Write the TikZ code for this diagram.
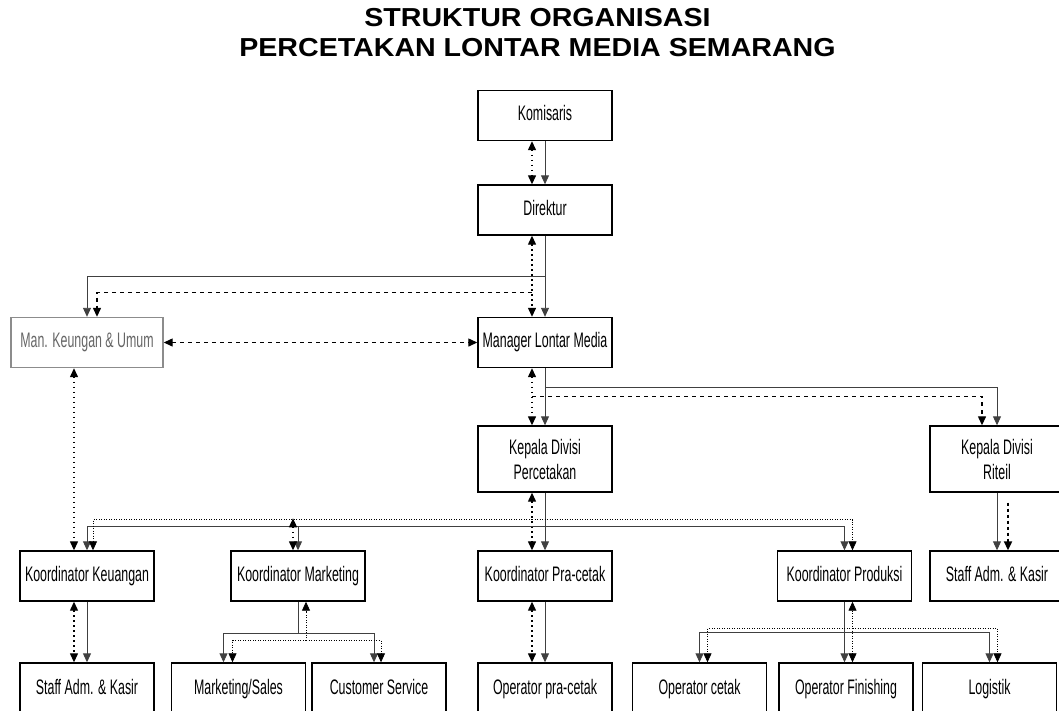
\documentclass[tikz,border=0pt]{standalone}
\usepackage{fontspec}
\setmainfont{Liberation Sans}[FakeStretch=0.59]
\newfontfamily\judulfont{Liberation Sans}[FakeStretch=1.1]
\usetikzlibrary{arrows.meta}

\begin{document}
\begin{tikzpicture}[x=1pt, y=-1pt, >={Triangle[length=9pt,width=8pt]},
        box/.style={draw, line width=1.4pt, minimum width=134pt, minimum height=50pt, inner sep=0pt, align=center, text height=15pt, text depth=4.5pt, font=\fontsize{21}{25}\selectfont},
        tall/.style={draw, line width=1.4pt, minimum width=134pt, minimum height=66pt, inner sep=0pt, align=center, font=\fontsize{21}{25}\selectfont},
        lowbox/.style={box, minimum height=52pt},
        conn/.style={line width=0.9pt, draw=black!75},
        dotline/.style={line width=1.3pt, dash pattern=on 1.5pt off 3.5pt},
        dashline/.style={line width=1.3pt, dash pattern=on 4pt off 4pt},
        thindot/.style={line width=0.8pt, dash pattern=on 1pt off 1.5pt},
        thickdot/.style={line width=2pt, dash pattern=on 3pt off 3pt}]
    \useasboundingbox (0,0) rectangle (1059,710);
    \clip (0,0) rectangle (1059,710);

    \node[font=\judulfont\bfseries\fontsize{26}{30}\selectfont, align=center, inner sep=0pt] (judul) at (537.5,33) {STRUKTUR ORGANISASI\\PERCETAKAN LONTAR MEDIA SEMARANG};

    \node[box] (komisaris) at (545,115.5) {Komisaris};
    \node[box] (direktur) at (545,210) {Direktur};
    \node[box] (manager) at (545,342.5) {Manager Lontar Media};
    \node[box, minimum width=152pt, draw=black!45, text=black!60] (mankeu) at (87,342.5) {Man. Keungan \& Umum};
    \node[tall] (kdivcetak) at (545,459) {Kepala Divisi\\Percetakan};
    \node[tall] (kdivriteil) at (997,459) {Kepala Divisi\\Riteil};

    \node[box] (kkeu) at (87,576) {Koordinator Keuangan};
    \node[box] (kmkt) at (298,576) {Koordinator Marketing};
    \node[box] (kpra) at (545,576) {Koordinator Pra-cetak};
    \node[box] (kprod) at (844.5,576) {Koordinator Produksi};
    \node[box] (staffrit) at (997,576) {Staff Adm. \& Kasir};

    \node[lowbox] (staffkeu) at (87,689) {Staff Adm. \& Kasir};
    \node[lowbox] (sales) at (238.5,689) {Marketing/Sales};
    \node[lowbox] (cs) at (379,689) {Customer Service};
    \node[lowbox] (oppra) at (545,689) {Operator pra-cetak};
    \node[lowbox] (opcetak) at (699.5,689) {Operator cetak};
    \node[lowbox] (opfin) at (846,689) {Operator Finishing};
    \node[lowbox] (logistik) at (989.5,689) {Logistik};

    \draw[conn,->] (komisaris) -- (direktur);
    \draw[dotline,<->] ([xshift=-13pt]komisaris.south) -- ([xshift=-13pt]direktur.north);

    \draw[conn,->] (direktur) -- (manager);
    \draw[dotline,<->] ([xshift=-13pt]direktur.south) -- ([xshift=-13pt]manager.north);
    \draw[conn,->] (direktur.south) ++(0,41) -| (mankeu.north);
    \draw[dashline,->] ([xshift=-13pt]direktur.south) ++(0,57) -| ([xshift=10pt]mankeu.north);

    \draw[dashline,<->] (mankeu) -- (manager);
    \draw[dotline,<->] ([xshift=-13pt]mankeu.south) -- ([xshift=-13pt]kkeu.north);

    \draw[conn,->] (manager) -- (kdivcetak);
    \draw[dotline,<->] ([xshift=-13pt]manager.south) -- ([xshift=-13pt]kdivcetak.north);
    \draw[conn,->] (manager.south) ++(0,19) -| (kdivriteil.north);
    \draw[dashline,->] ([xshift=-13pt]manager.south) ++(0,28) -| ([xshift=-15pt]kdivriteil.north);

    \draw[conn,->] (kdivcetak) -- (kpra);
    \draw[dotline,<->] ([xshift=-13pt]kdivcetak.south) -- ([xshift=-13pt]kpra.north);
    \draw[conn,->] (kdivcetak.south) ++(0,34) -| (kkeu.north);
    \draw[conn,->] (kdivcetak.south) ++(0,34) -| (kmkt.north);
    \draw[conn,->] (kdivcetak.south) ++(0,34) -| (kprod.north);
    \draw[thindot,->] ([xshift=-13pt]kdivcetak.south) ++(0,27) -| ([xshift=6pt]kkeu.north);
    \draw[thindot,->] ([xshift=-13pt]kdivcetak.south) ++(0,27) -| ([xshift=8pt]kprod.north);
    \draw[dotline,<->] ([xshift=-5pt]kmkt.north) ++(0,-32) -- ([xshift=-5pt]kmkt.north);

    \draw[conn,->] (kdivriteil) -- (staffrit);
    \draw[thickdot,->] ([xshift=11pt]kdivriteil.south) ++(0,10) -- ([xshift=11pt]staffrit.north);

    \draw[conn,->] (kkeu) -- (staffkeu);
    \draw[dotline,<->] ([xshift=-13pt]kkeu.south) -- ([xshift=-13pt]staffkeu.north);

    \draw[conn,->] (kmkt.south) -- ++(0,32) -| ([xshift=-15pt]sales.north);
    \draw[conn,->] (kmkt.south) ++(0,32) -| ([xshift=-5pt]cs.north);
    \draw[thindot,->] ([xshift=8pt]kmkt.south) ++(0,39) -| ([xshift=-6pt]sales.north);
    \draw[thindot,->] ([xshift=8pt]kmkt.south) ++(0,39) -| ([xshift=2pt]cs.north);
    \draw[thindot,->] ([xshift=8pt]kmkt.south) ++(0,39) -- ([xshift=8pt]kmkt.south);

    \draw[conn,->] (kpra) -- (oppra);
    \draw[dotline,<->] ([xshift=-13pt]kpra.south) -- ([xshift=-13pt]oppra.north);

    \draw[conn,->] (kprod.south) -- (kprod.south |- opfin.north);
    \draw[conn,->] (kprod.south) ++(0,31) -| (opcetak.north);
    \draw[conn,->] (kprod.south) ++(0,31) -| (logistik.north);
    \draw[thindot,->] ([xshift=8pt]kprod.south) ++(0,27) -| ([xshift=8pt]opcetak.north);
    \draw[thindot,->] ([xshift=8pt]kprod.south) ++(0,27) -| ([xshift=8pt]logistik.north);
    \draw[thindot,<->] ([xshift=8pt]kprod.south) -- ([xshift=8pt]kprod.south |- opfin.north);
\end{tikzpicture}
\end{document}
